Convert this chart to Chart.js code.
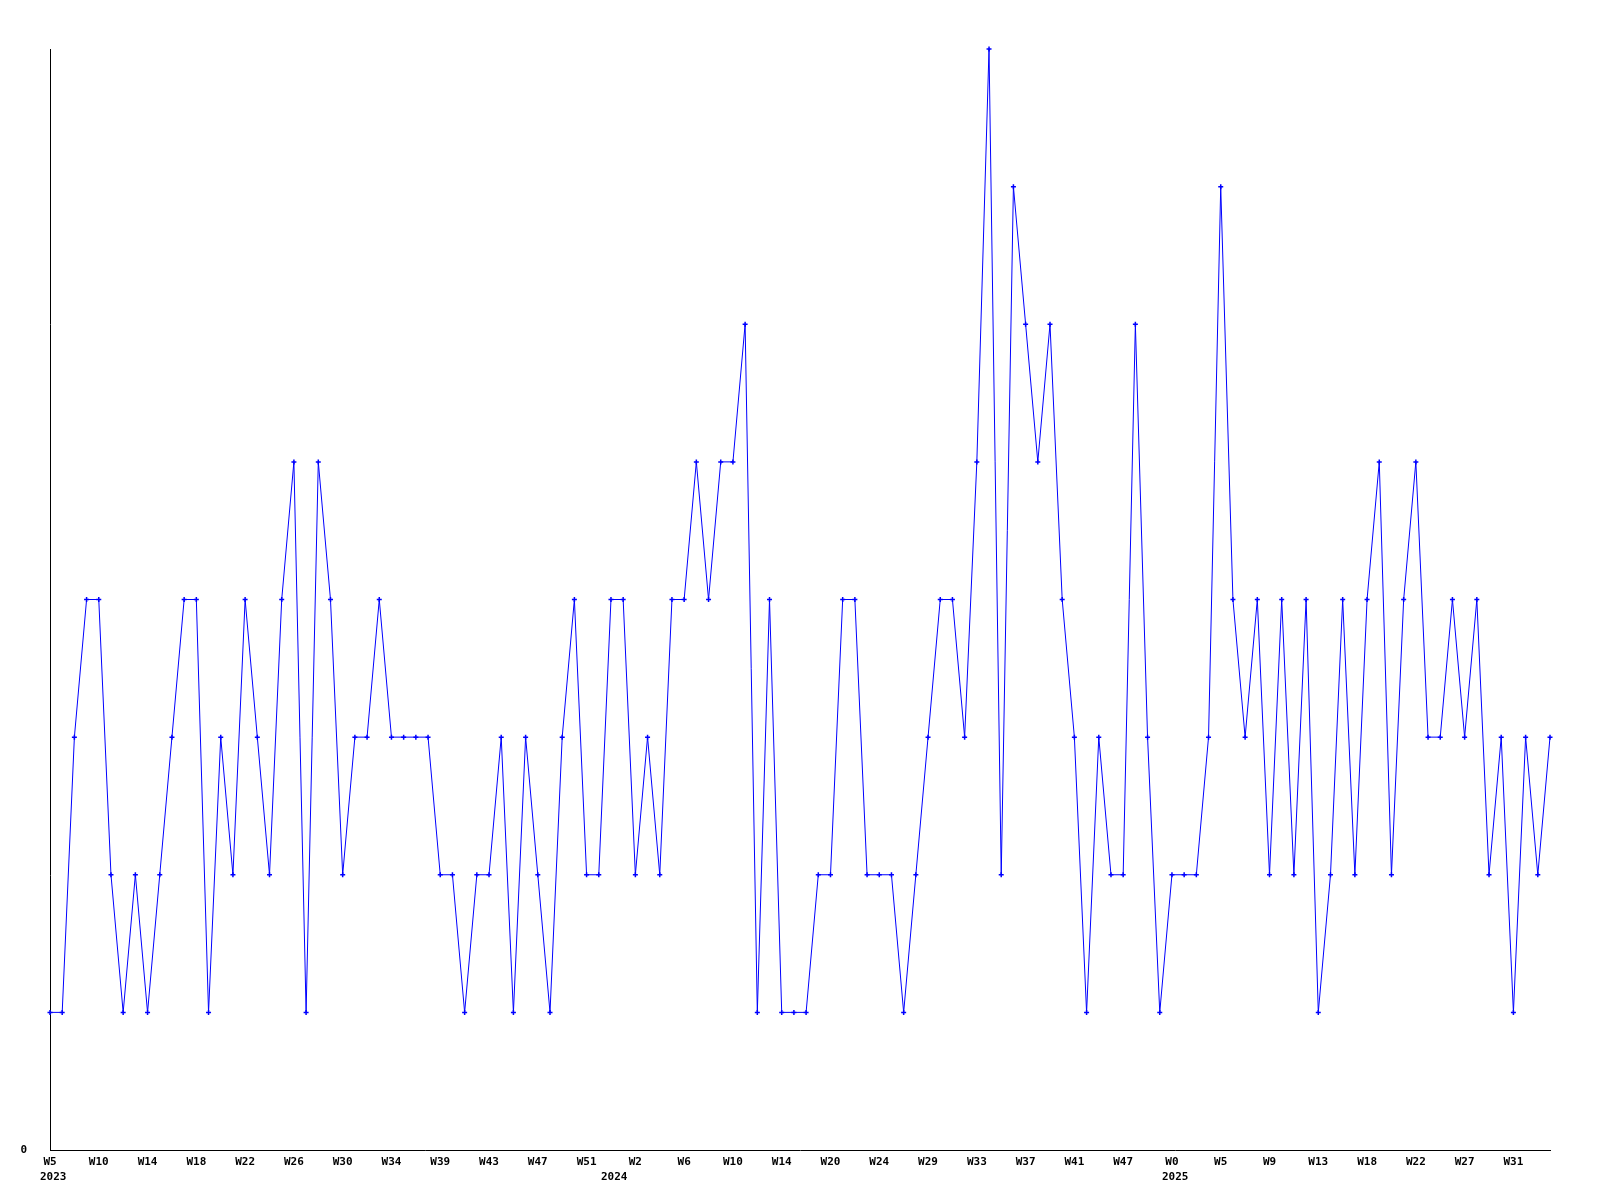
<!DOCTYPE html>
<html>
<head>
<meta charset="utf-8">
<script src="https://cdn.jsdelivr.net/npm/chart.js@4/dist/chart.umd.min.js"></script>
<style>
  html, body { margin: 0; padding: 0; background: #ffffff; }
  #wrap { width: 1600px; height: 1200px; position: relative; }
</style>
</head>
<body>
<div id="wrap"><canvas id="c" width="1600" height="1200"></canvas></div>
<script>
// ---- data ----
const seriesValues = [
  1,1,3,4,4,2,1,2,1,2,
  3,4,4,1,3,2,4,3,2,4,
  5,1,5,4,2,3,3,4,3,3,
  3,3,2,2,1,2,2,3,1,3,
  2,1,3,4,2,2,4,4,2,3,
  2,4,4,5,4,5,5,6,1,4,
  1,1,1,2,2,4,4,2,2,2,
  1,2,3,4,4,3,5,8,2,7,
  6,5,6,4,3,1,3,2,2,6,
  3,1,2,2,2,3,7,4,3,4,
  2,4,2,4,1,2,4,2,4,5,
  2,4,5,3,3,4,3,4,2,3,
  1,3,2,3
];
const weekTickLabels = ['W5','W10','W14','W18','W22','W26','W30','W34','W39','W43','W47','W51',
  'W2','W6','W10','W14','W20','W24','W29','W33','W37','W41','W47',
  'W0','W5','W9','W13','W18','W22','W27','W31'];
const tickEvery = 4;
const yearLabels = ['2023','2024','2025'];
const yearLabelIndex = [0, 46, 92];
const yTickLabels = ['0'];
const yMin = 0, yMax = 8;

const points = seriesValues.map((v, i) => ({ x: i, y: v }));
const FONT = { family: "'DejaVu Sans Mono', 'Liberation Mono', monospace", size: 11, weight: 'bold' };

const yearPlugin = {
  id: 'yearLabels',
  afterDraw(chart) {
    const xs = chart.scales.x;
    const ctx = chart.ctx;
    ctx.save();
    ctx.font = 'bold 11px ' + FONT.family;
    ctx.fillStyle = '#000';
    ctx.textAlign = 'left';
    ctx.textBaseline = 'middle';
    yearLabels.forEach((t, k) => {
      const px = xs.getPixelForValue(yearLabelIndex[k]);
      ctx.fillText(t, px - 10, chart.chartArea.bottom + 27);
    });
    ctx.restore();
  }
};

new Chart(document.getElementById('c'), {
  type: 'line',
  data: {
    datasets: [{
      data: points,
      borderColor: '#0000ff',
      backgroundColor: '#0000ff',
      borderWidth: 1,
      tension: 0,
      pointStyle: 'cross',
      pointRadius: 2.5,
      pointBorderWidth: 1.5,
      pointBorderColor: '#0000ff',
      clip: false
    }]
  },
  options: {
    responsive: false,
    animation: false,
    events: [],
    layout: { padding: { top: 49, right: 50, left: 0, bottom: 0 } },
    plugins: { legend: { display: false }, tooltip: { enabled: false } },
    scales: {
      x: {
        type: 'linear',
        min: 0,
        max: seriesValues.length - 1,
        grid: { display: false, drawTicks: false },
        border: { display: true, color: '#000', width: 1 },
        afterBuildTicks(scale) {
          scale.ticks = weekTickLabels.map((_, k) => ({ value: k * tickEvery }));
        },
        afterFit(scale) { scale.height = 50; },
        ticks: {
          autoSkip: false,
          maxRotation: 0,
          padding: 6,
          color: '#000',
          font: FONT,
          callback(value) { return weekTickLabels[Math.round(value / tickEvery)] ?? ''; }
        }
      },
      y: {
        min: yMin,
        max: yMax,
        grid: { display: false, drawTicks: false },
        border: { display: true, color: '#000', width: 1 },
        afterBuildTicks(scale) {
          scale.ticks = yTickLabels.map(t => ({ value: Number(t) }));
        },
        afterFit(scale) { scale.width = 50; },
        ticks: {
          padding: 23,
          color: '#000',
          font: FONT,
          callback(value) { return String(value); }
        }
      }
    }
  },
  plugins: [yearPlugin]
});
</script>
</body>
</html>
